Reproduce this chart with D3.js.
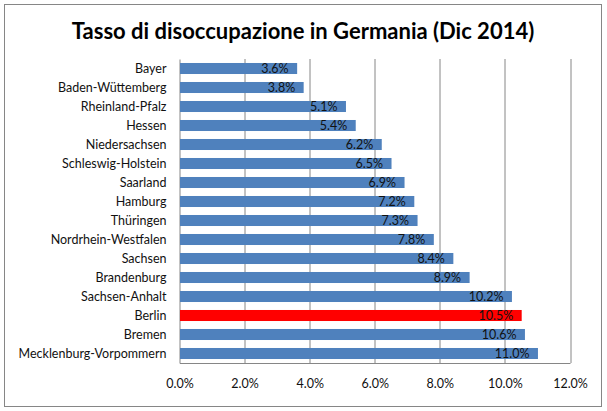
<!DOCTYPE html>
<html>
<head>
<meta charset="utf-8">
<script src="https://cdn.jsdelivr.net/npm/d3@7"></script>
<style>
  body { margin: 0; background: #fff; }
  text { font-family: Lato, "Open Sans", sans-serif; }
</style>
</head>
<body>
<div id="chart"></div>
<script>
const regions = ["Bayer", "Baden-Wüttemberg", "Rheinland-Pfalz", "Hessen", "Niedersachsen",
  "Schleswig-Holstein", "Saarland", "Hamburg", "Thüringen", "Nordrhein-Westfalen", "Sachsen",
  "Brandenburg", "Sachsen-Anhalt", "Berlin", "Bremen", "Mecklenburg-Vorpommern"];
const rates = [3.6, 3.8, 5.1, 5.4, 6.2, 6.5, 6.9, 7.2, 7.3, 7.8, 8.4, 8.9, 10.2, 10.5, 10.6, 11.0];
const ticks = [0, 2, 4, 6, 8, 10, 12];
const highlight = "Berlin";

const svgWidth = 607;
const svgHeight = 411;
const margin = { top: 59, right: 37, bottom: 48, left: 179.5 };
const width = svgWidth - margin.left - margin.right;
const height = svgHeight - margin.top - margin.bottom;

const data = regions.map((r, i) => ({ region: r, rate: rates[i] }));

const svg = d3.select("#chart").append("svg")
  .attr("width", svgWidth)
  .attr("height", svgHeight);

svg.append("rect")
  .attr("x", 4.5).attr("y", 4.5)
  .attr("width", 597).attr("height", 402)
  .attr("fill", "#fff")
  .attr("stroke", "#868686");

svg.append("text")
  .attr("x", 303).attr("y", 39)
  .attr("text-anchor", "middle")
  .attr("font-size", 22)
  .attr("font-weight", "bold")
  .text("Tasso di disoccupazione in Germania (Dic 2014)");

const g = svg.append("g").attr("transform", `translate(${margin.left},${margin.top})`);

const x = d3.scaleLinear().domain([0, 12]).range([0, width]);
const y = d3.scaleBand().domain(regions).range([0, height]).paddingInner(0.42).paddingOuter(0.21);

// gridlines
g.selectAll(".grid")
  .data(ticks.slice(1))
  .enter().append("line")
  .attr("x1", (d) => Math.round(x(d)) + 0.5).attr("x2", (d) => Math.round(x(d)) + 0.5)
  .attr("y1", 0).attr("y2", height)
  .attr("stroke", "#868686");

// bottom axis
const xAxis = g.append("g")
  .attr("transform", `translate(0,${height})`)
  .call(d3.axisBottom(x).tickValues(ticks).tickSize(0).tickPadding(16)
    .tickFormat((d) => d.toFixed(1) + "%"));
xAxis.select(".domain").attr("stroke", "#868686");
xAxis.selectAll("text").attr("font-size", 12.5).attr("fill", "#111").style("font-family", "Lato, sans-serif");

// left axis
const yAxis = g.append("g")
  .call(d3.axisLeft(y).tickSize(0).tickPadding(13));
yAxis.select(".domain").attr("stroke", "#868686");
yAxis.selectAll("text").attr("font-size", 12.5).attr("fill", "#111").style("font-family", "Lato, sans-serif");

g.selectAll(".bar")
  .data(data)
  .enter().append("rect")
  .attr("class", "bar")
  .attr("x", 0.5)
  .attr("y", (d) => y(d.region))
  .attr("width", (d) => x(d.rate))
  .attr("height", y.bandwidth())
  .attr("fill", (d) => d.region === highlight ? "#ff0000" : "#4f81bd");

g.selectAll(".val")
  .data(data)
  .enter().append("text")
  .attr("class", "val")
  .attr("x", (d) => x(d.rate) - 8)
  .attr("y", (d) => y(d.region) + y.bandwidth() / 2)
  .attr("dy", "0.35em")
  .attr("text-anchor", "end")
  .attr("font-size", 12.5)
  .attr("fill", "#111")
  .text((d) => d.rate.toFixed(1) + "%");
</script>
</body>
</html>
